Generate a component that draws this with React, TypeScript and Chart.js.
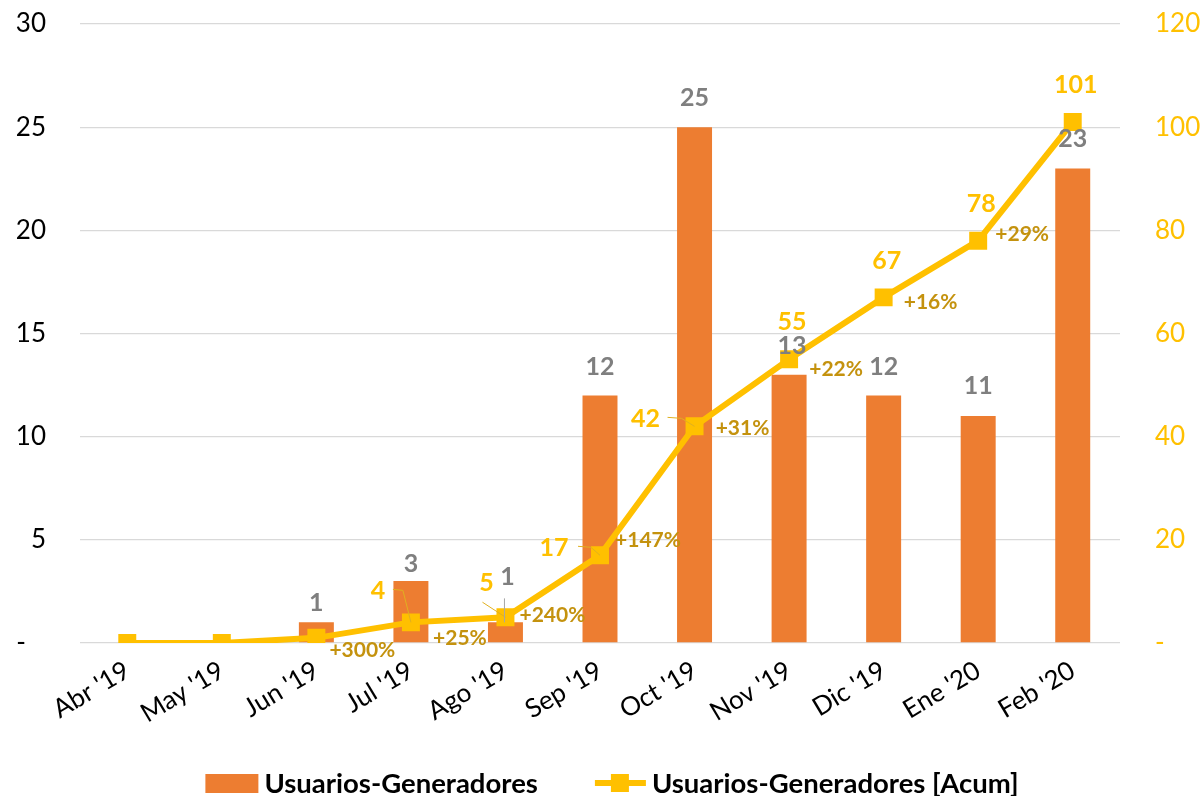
import React, { useEffect, useRef } from "react";
import { Chart, registerables } from "chart.js";

Chart.register(...registerables);

const categories = ["Abr '19", "May '19", "Jun '19", "Jul '19", "Ago '19", "Sep '19", "Oct '19", "Nov '19", "Dic '19", "Ene '20", "Feb '20"];
const usuarios = [0, 0, 1, 3, 1, 12, 25, 13, 12, 11, 23];
const acumulado = [0, 0, 1, 4, 5, 17, 42, 55, 67, 78, 101];
const crecimiento = ["", "", "+300%", "+25%", "+240%", "+147%", "+31%", "+22%", "+16%", "+29%", ""];
const leftTicks = [0, 5, 10, 15, 20, 25, 30];
const rightTicks = [0, 20, 40, 60, 80, 100, 120];

const BAR = "#ED7D31";
const LINE = "#FFC000";
const GRAY = "#7F7F7F";
const PCT = "#C4920E";
const FONT = "Lato";

// label placement (style only)
const barLabelDy = [0, 0, -19, -17, -45, -28, -29, -29, -28, -30, -29];
const barLabelDx = [0, 0, 0, 0, 2, 0, 0, 3, 0, 0, 0];
const showLineLabel = [false, false, false, true, true, true, true, true, true, true, true];
const lineLabelOff: [number, number][] = [[0, 0], [0, 0], [0, 0], [-33, -31], [-19, -34], [-46, -7], [-49, -7], [3, -37], [3, -36], [3, -37], [3, -37]];
const pctOff: [number, number][] = [[0, 0], [0, 0], [46, 12], [49, 16], [47, -2], [48, -15], [48, 2], [47, 10], [47, 5], [44, -6], [0, 0]];
const lineLeaders: Record<number, [number, number][]> = {
  3: [[-18, -33], [-8, -32], [0, 0]],
  4: [[-23, -15], [0, 0]],
  5: [[-22, -9], [-9, -8], [0, 0]],
  6: [[-27, -9], [-13, -8], [0, 0]],
};
const barLeaders: Record<number, [number, number][]> = {
  4: [[-1, -24], [-1, 0]],
};

const labelsPlugin = {
  id: "customLabels",
  afterDatasetsDraw(chart: any) {
    const ctx = chart.ctx as CanvasRenderingContext2D;
    const barMeta = chart.getDatasetMeta(0);
    const lineMeta = chart.getDatasetMeta(1);
    ctx.save();
    ctx.lineWidth = 1;
    Object.keys(lineLeaders).forEach((k) => {
      const i = Number(k);
      const p = lineMeta.data[i];
      const pts = lineLeaders[i];
      ctx.strokeStyle = "#E0B020";
      ctx.beginPath();
      pts.forEach(([dx, dy], j) => {
        if (j === 0) ctx.moveTo(p.x + dx, p.y + dy);
        else ctx.lineTo(p.x + dx, p.y + dy);
      });
      ctx.stroke();
    });
    Object.keys(barLeaders).forEach((k) => {
      const i = Number(k);
      const b = barMeta.data[i];
      const pts = barLeaders[i];
      ctx.strokeStyle = "#A6A6A6";
      ctx.beginPath();
      pts.forEach(([dx, dy], j) => {
        if (j === 0) ctx.moveTo(b.x + dx, b.y + dy);
        else ctx.lineTo(b.x + dx, b.y + dy);
      });
      ctx.stroke();
    });

    ctx.textAlign = "center";
    ctx.textBaseline = "middle";
    ctx.font = `bold 25px ${FONT}`;
    ctx.fillStyle = GRAY;
    usuarios.forEach((v, i) => {
      if (!v) return;
      const b = barMeta.data[i];
      ctx.fillText(String(v), b.x + barLabelDx[i], b.y + barLabelDy[i]);
    });
    ctx.fillStyle = LINE;
    acumulado.forEach((v, i) => {
      if (!showLineLabel[i]) return;
      const p = lineMeta.data[i];
      ctx.fillText(String(v), p.x + lineLabelOff[i][0], p.y + lineLabelOff[i][1]);
    });
    ctx.font = `bold 21px ${FONT}`;
    ctx.fillStyle = PCT;
    crecimiento.forEach((t, i) => {
      if (!t) return;
      const p = lineMeta.data[i];
      ctx.fillText(t, p.x + pctOff[i][0], p.y + pctOff[i][1]);
    });
    ctx.restore();
  },
  afterDraw(chart: any) {
    const ctx = chart.ctx as CanvasRenderingContext2D;
    ctx.save();
    ctx.font = `bold 27.5px ${FONT}`;
    const t1 = "Usuarios-Generadores";
    const t2 = "Usuarios-Generadores [Acum]";
    const w1 = ctx.measureText(t1).width;
    const w2 = ctx.measureText(t2).width;
    const total = 53 + 6 + w1 + 57 + 51 + 6 + w2;
    let x = 612 - total / 2;
    const y = 783;
    ctx.fillStyle = BAR;
    ctx.fillRect(x, y - 9, 53, 19);
    x += 59;
    ctx.fillStyle = "#000";
    ctx.textBaseline = "middle";
    ctx.textAlign = "left";
    ctx.fillText(t1, x, y + 1);
    x += w1 + 57;
    ctx.strokeStyle = LINE;
    ctx.lineWidth = 6;
    ctx.beginPath();
    ctx.moveTo(x, y);
    ctx.lineTo(x + 51, y);
    ctx.stroke();
    ctx.fillStyle = LINE;
    ctx.fillRect(x + 16, y - 9, 18, 18);
    x += 57;
    ctx.fillStyle = "#000";
    ctx.fillText(t2, x, y + 1);
    ctx.restore();
  },
};

export default function App() {
  const ref = useRef<HTMLCanvasElement | null>(null);
  useEffect(() => {
    if (!ref.current) return;
    Chart.defaults.font.family = FONT;
    const chart = new Chart(ref.current, {
      type: "bar",
      data: {
        labels: categories,
        datasets: [
          {
            type: "bar",
            label: "Usuarios-Generadores",
            data: usuarios,
            backgroundColor: BAR,
            yAxisID: "y",
            order: 1,
            barPercentage: 0.37,
            categoryPercentage: 1,
          },
          {
            type: "line",
            label: "Usuarios-Generadores [Acum]",
            data: acumulado,
            borderColor: LINE,
            backgroundColor: LINE,
            borderWidth: 6,
            pointStyle: "rect",
            pointRadius: 12.7,
            pointBorderWidth: 0,
            pointBackgroundColor: LINE,
            yAxisID: "y1",
            order: 0,
            tension: 0,
          } as any,
        ],
      },
      options: {
        responsive: false,
        animation: false,
        layout: { padding: { top: 24, bottom: 0, left: 0, right: 0 } },
        plugins: { legend: { display: false }, tooltip: { enabled: false } },
        scales: {
          x: {
            offset: true,
            grid: { display: false, drawTicks: false },
            border: { display: false },
            ticks: {
              autoSkip: false,
              maxRotation: 31,
              minRotation: 31,
              padding: 12,
              color: "#000",
              font: { size: 26 },
            },
            afterFit: (s: any) => {
              s.height = 153;
            },
          },
          y: {
            position: "left",
            min: 0,
            max: 30,
            afterBuildTicks: (s: any) => {
              s.ticks = leftTicks.map((v) => ({ value: v }));
            },
            grid: { color: "#D9D9D9", lineWidth: 1.3, drawTicks: false },
            border: { display: false },
            ticks: {
              padding: 34,
              color: "#000",
              font: { size: 26 },
              callback: (v: any) => (Number(v) === 0 ? "-   " : String(v)),
            },
            afterFit: (s: any) => {
              s.width = 80;
              s.paddingTop = 0;
              s.paddingBottom = 0;
            },
          },
          y1: {
            position: "right",
            min: 0,
            max: 120,
            afterBuildTicks: (s: any) => {
              s.ticks = rightTicks.map((v) => ({ value: v }));
            },
            grid: { display: false, drawTicks: false },
            border: { display: false },
            ticks: {
              padding: 35,
              color: LINE,
              font: { size: 26 },
              callback: (v: any) => (Number(v) === 0 ? "-" : String(v)),
            },
            afterFit: (s: any) => {
              s.width = 81;
              s.paddingTop = 0;
              s.paddingBottom = 0;
            },
          },
        },
      },
      plugins: [labelsPlugin],
    });
    return () => chart.destroy();
  }, []);
  return (
    <div style={{ position: "absolute", left: 0, top: 0, width: 1201, height: 796 }}>
      <canvas ref={ref} width={1201} height={796} />
    </div>
  );
}
